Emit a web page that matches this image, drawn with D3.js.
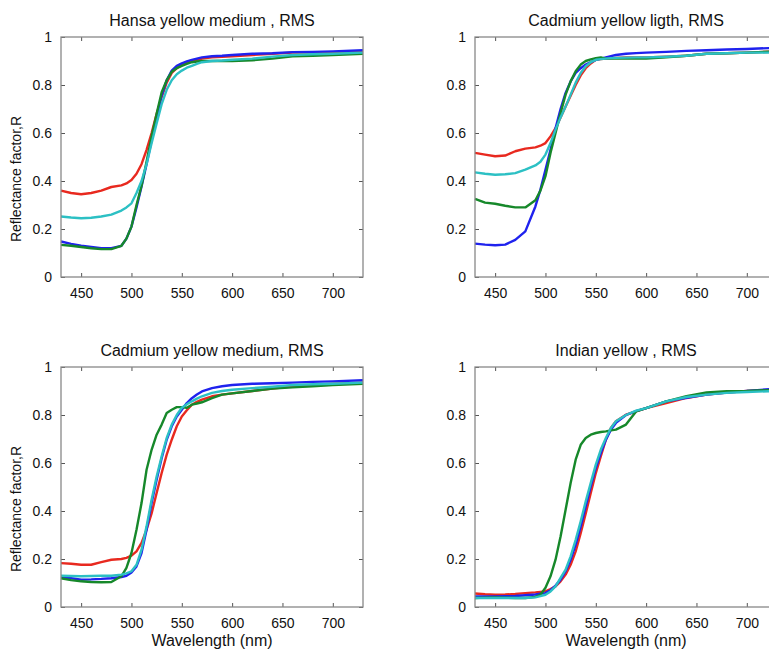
<!DOCTYPE html>
<html>
<head>
<meta charset="utf-8">
<script src="https://cdn.jsdelivr.net/npm/d3@7"></script>
<style>
    body { margin: 0; background: #fff; }
    svg { display: block; font-family: "Liberation Sans", Arial, sans-serif; }
</style>
</head>
<body>
<svg id="chart" width="769" height="654"></svg>
<script>
// Wavelength grid shared by every curve (nm)
const wavelengths = [430, 440, 450, 460, 470, 480, 490, 495, 500, 505, 510, 515, 520, 525, 530, 535,
    540, 545, 550, 555, 560, 565, 570, 580, 590, 600, 620, 640, 660, 680, 700, 730];

// Hansa yellow medium
const hansaRed   = [.36, .35, .345, .35, .36, .375, .382, .39, .404, .43, .47, .53, .60, .68, .75, .81, .85, .87, .885, .895, .90, .905, .91, .915, .918, .92, .925, .93, .935, .935, .937, .94];
const hansaBlue  = [.148, .138, .13, .125, .12, .12, .13, .16, .21, .29, .377, .47, .57, .667, .757, .82, .86, .88, .89, .898, .905, .91, .915, .92, .922, .925, .93, .932, .937, .938, .94, .945];
const hansaGreen = [.134, .13, .125, .12, .116, .116, .13, .16, .21, .30, .38, .48, .585, .68, .77, .82, .855, .87, .88, .888, .895, .898, .90, .90, .90, .90, .903, .91, .92, .922, .925, .93];
const hansaCyan  = [.252, .248, .245, .247, .252, .26, .277, .29, .307, .35, .40, .47, .557, .64, .72, .78, .82, .845, .86, .872, .88, .888, .895, .90, .902, .905, .91, .918, .925, .928, .93, .935];

// Cadmium yellow ligth
const lightRed   = [.517, .51, .503, .506, .524, .535, .54, .547, .558, .586, .62, .665, .71, .755, .80, .84, .87, .89, .905, .908, .91, .912, .913, .915, .915, .915, .918, .922, .93, .932, .935, .94];
const lightBlue  = [.139, .135, .132, .135, .155, .19, .294, .364, .447, .53, .62, .70, .767, .815, .85, .87, .885, .895, .905, .91, .915, .92, .925, .93, .933, .935, .938, .942, .945, .948, .95, .955];
const lightGreen = [.326, .31, .305, .297, .29, .29, .32, .36, .42, .517, .60, .683, .76, .815, .857, .885, .90, .907, .912, .915, .91, .91, .91, .91, .91, .91, .915, .922, .93, .932, .935, .94];
const lightCyan  = [.436, .43, .426, .428, .433, .447, .465, .48, .51, .558, .614, .665, .71, .76, .81, .85, .878, .895, .905, .908, .91, .912, .913, .914, .915, .915, .918, .922, .93, .932, .935, .935];

// Cadmium yellow medium
const mediumRed   = [.183, .18, .176, .176, .187, .197, .20, .205, .214, .232, .267, .322, .39, .475, .558, .635, .697, .753, .794, .82, .843, .855, .864, .878, .885, .89, .90, .91, .92, .925, .93, .935];
const mediumBlue  = [.125, .12, .114, .115, .117, .12, .125, .13, .144, .169, .225, .322, .433, .53, .62, .697, .753, .794, .822, .85, .87, .885, .898, .912, .92, .925, .93, .932, .935, .938, .94, .945];
const mediumGreen = [.12, .112, .107, .104, .103, .104, .128, .163, .225, .322, .433, .572, .655, .718, .76, .808, .822, .833, .833, .83, .843, .848, .853, .87, .885, .89, .90, .91, .915, .92, .925, .93];
const mediumCyan  = [.13, .129, .128, .129, .13, .13, .135, .14, .149, .176, .239, .336, .447, .544, .628, .704, .76, .80, .83, .845, .857, .868, .878, .892, .90, .905, .912, .918, .925, .928, .93, .935];

// Indian yellow
const indianRed   = [.056, .053, .051, .052, .054, .058, .061, .063, .065, .075, .086, .107, .135, .176, .232, .308, .39, .475, .558, .628, .697, .746, .774, .801, .815, .829, .85, .871, .885, .893, .90, .905];
const indianBlue  = [.044, .044, .044, .045, .046, .049, .052, .055, .058, .07, .089, .114, .149, .197, .26, .336, .42, .503, .58, .642, .697, .739, .767, .80, .816, .829, .857, .872, .885, .893, .90, .91];
const indianGreen = [.0375, .039, .04, .039, .0375, .0375, .042, .051, .08, .128, .197, .294, .405, .517, .614, .676, .704, .718, .725, .729, .732, .736, .739, .76, .815, .829, .857, .878, .894, .899, .90, .905];
const indianCyan  = [.0375, .0375, .0375, .0375, .0375, .0375, .04, .045, .051, .065, .086, .121, .156, .211, .28, .357, .44, .517, .593, .656, .704, .746, .774, .80, .818, .829, .857, .875, .885, .892, .896, .90];

const titles = ['Hansa yellow medium , RMS', 'Cadmium yellow ligth, RMS', 'Cadmium yellow medium, RMS', 'Indian yellow , RMS'];
const xTicks = [450, 500, 550, 600, 650, 700];
const yTicks = [0, 0.2, 0.4, 0.6, 0.8, 1];

// Line colours, in drawing order
const colors = { red: '#e8291f', blue: '#1f22ee', green: '#16882a', cyan: '#2cc0c4' };

const panels = [
    { title: titles[0], col: 0, row: 0, series: { red: hansaRed, blue: hansaBlue, green: hansaGreen, cyan: hansaCyan } },
    { title: titles[1], col: 1, row: 0, series: { red: lightRed, blue: lightBlue, green: lightGreen, cyan: lightCyan } },
    { title: titles[2], col: 0, row: 1, series: { red: mediumRed, blue: mediumBlue, green: mediumGreen, cyan: mediumCyan } },
    { title: titles[3], col: 1, row: 1, series: { red: indianRed, blue: indianBlue, green: indianGreen, cyan: indianCyan } }
];

// Layout
const colLeft = [61, 475];
const rowTop = [37, 367];
const plotW = 302;
const plotH = 240;

const svg = d3.select('#chart');

panels.forEach(p => {
    const left = colLeft[p.col];
    const top = rowTop[p.row];

    const x = d3.scaleLinear().domain([430, 730]).range([0, plotW]);
    const y = d3.scaleLinear().domain([0, 1]).range([plotH, 0]);

    const g = svg.append('g').attr('transform', `translate(${left},${top})`);

    // Curves
    const line = d3.line()
        .x((d, i) => x(wavelengths[i]))
        .y(d => y(d));

    Object.keys(colors).forEach(key => {
        g.append('path')
            .datum(p.series[key])
            .attr('fill', 'none')
            .attr('stroke', colors[key])
            .attr('stroke-width', 2.4)
            .attr('stroke-linejoin', 'round')
            .attr('d', line);
    });

    // Axes with inward ticks on all four sides
    const bottom = g.append('g')
        .attr('transform', `translate(0,${plotH})`)
        .call(d3.axisBottom(x).tickValues(xTicks).tickSize(-4).tickSizeOuter(0).tickPadding(11));
    const leftAxis = g.append('g')
        .call(d3.axisLeft(y).tickValues(yTicks).tickFormat(d => d).tickSize(-4).tickSizeOuter(0).tickPadding(9));
    const topAxis = g.append('g')
        .call(d3.axisTop(x).tickValues(xTicks).tickFormat('').tickSize(-4).tickSizeOuter(0));
    const rightAxis = g.append('g')
        .attr('transform', `translate(${plotW},0)`)
        .call(d3.axisRight(y).tickValues(yTicks).tickFormat('').tickSize(-4).tickSizeOuter(0));

    [bottom, leftAxis, topAxis, rightAxis].forEach(a => {
        a.select('.domain').remove();
        a.selectAll('.tick line').attr('stroke', '#555');
        a.selectAll('.tick text')
            .attr('fill', '#111')
            .style('font-size', '14px')
            .style('font-family', '"Liberation Sans", Arial, sans-serif');
    });

    // Frame
    g.append('rect')
        .attr('width', plotW)
        .attr('height', plotH)
        .attr('fill', 'none')
        .attr('stroke', '#888')
        .attr('stroke-width', 1.3);

    // Title
    g.append('text')
        .attr('x', plotW / 2)
        .attr('y', -11)
        .attr('text-anchor', 'middle')
        .style('font-size', '16px')
        .attr('fill', '#111')
        .text(p.title);

    if (p.col === 0) {
        g.append('text')
            .attr('transform', `translate(-40,${plotH / 2 + 22}) rotate(-90)`)
            .attr('text-anchor', 'middle')
            .style('font-size', '14px')
            .attr('fill', '#111')
            .text('Reflectance factor,R');
    }

    if (p.row === 1) {
        g.append('text')
            .attr('x', plotW / 2)
            .attr('y', plotH + 39)
            .attr('text-anchor', 'middle')
            .style('font-size', '16px')
            .attr('fill', '#111')
            .text('Wavelength (nm)');
    }
});
</script>
</body>
</html>
